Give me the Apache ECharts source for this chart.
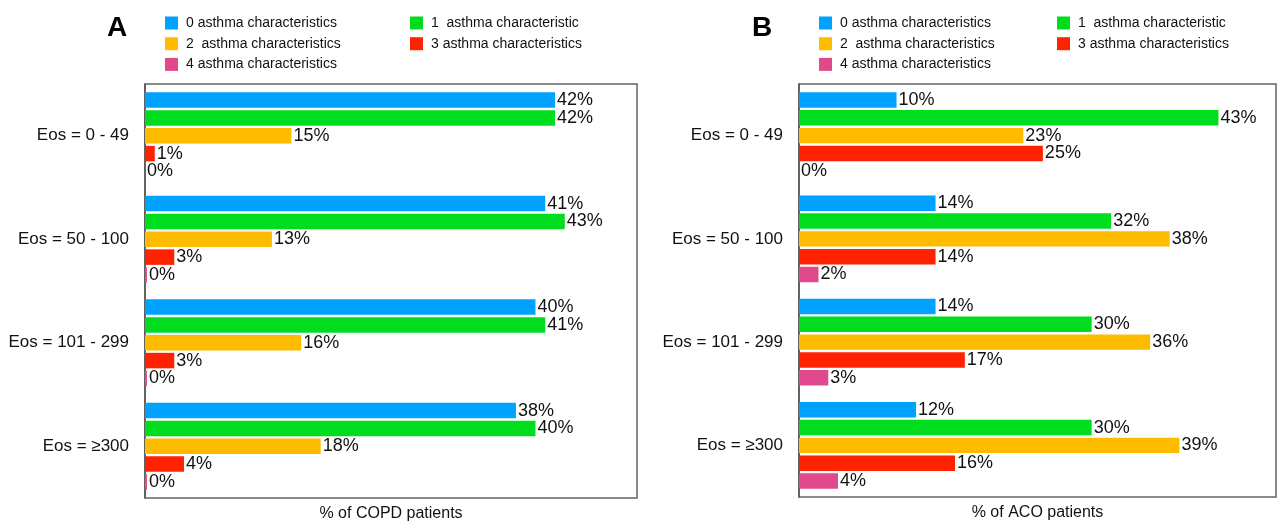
<!DOCTYPE html>
<html>
<head>
<meta charset="utf-8">
<script src="https://cdn.jsdelivr.net/npm/echarts@6/dist/echarts.min.js"></script>
<style>html,body{margin:0;padding:0;background:#fff}#c{width:1285px;height:527px}</style>
</head>
<body>
<div id="c"></div>
<script>
const categories = ['Eos = 0 - 49', 'Eos = 50 - 100', 'Eos = 101 - 299', 'Eos = \u2265300'];
const seriesNames = ['0 asthma characteristics', '1  asthma characteristic', '2  asthma characteristics', '3 asthma characteristics', '4 asthma characteristics'];
const seriesColors = ['#00a2ff', '#00dd1f', '#ffbb00', '#ff2200', '#e04a8c'];
// Panel A: % of COPD patients
const copd0 = [42, 41, 40, 38];
const copd1 = [42, 43, 41, 40];
const copd2 = [15, 13, 16, 18];
const copd3 = [1, 3, 3, 4];
const copd4 = [0, 0.2, 0.2, 0.2];
// Panel B: % of ACO patients
const aco0 = [10, 14, 14, 12];
const aco1 = [43, 32, 30, 30];
const aco2 = [23, 38, 36, 39];
const aco3 = [25, 14, 17, 16];
const aco4 = [0, 2, 3, 4];

const copdData = [copd0, copd1, copd2, copd3, copd4];
const acoData = [aco0, aco1, aco2, aco3, aco4];

const FONT = 'Liberation Sans';

function mkSeries(data, idx) {
  return data.map((d, i) => ({
    name: seriesNames[i],
    type: 'bar',
    xAxisIndex: idx,
    yAxisIndex: idx,
    data: d,
    barCategoryGap: '16%',
    barGap: '15%',
    itemStyle: { color: seriesColors[i] },
    label: {
      show: true, position: 'right', distance: 2,
      formatter: p => Math.round(p.value) + '%',
      color: '#111', fontFamily: FONT, fontSize: 18
    },
    emphasis: { disabled: true },
    animation: false
  }));
}

function mkLegend(left, names) {
  return {
    left: left, top: 16, orient: 'vertical', padding: 0,
    data: names,
    icon: 'rect', itemWidth: 13, itemHeight: 13, itemGap: 6.7,
    textStyle: { fontFamily: FONT, fontSize: 14, color: '#111', padding: [0, 0, 0, 3] },
    selectedMode: false
  };
}

const grids = [
  { left: 145, top: 84, width: 492, height: 414 },
  { left: 799, top: 84, width: 477, height: 413 }
];

const option = {
  animation: false,
  grid: grids.map(g => Object.assign({ show: true, borderColor: '#666', borderWidth: 1.5, backgroundColor: '#fff', containLabel: false, outerBoundsMode: 'none' }, g)),
  legend: [
    mkLegend(165, [seriesNames[0], seriesNames[2], seriesNames[4]]),
    mkLegend(410, [seriesNames[1], seriesNames[3]]),
    mkLegend(819, [seriesNames[0], seriesNames[2], seriesNames[4]]),
    mkLegend(1057, [seriesNames[1], seriesNames[3]])
  ],
  xAxis: [
    { gridIndex: 0, type: 'value', min: 0, max: 50.4, name: '% of COPD patients' },
    { gridIndex: 1, type: 'value', min: 0, max: 48.9, name: '% of ACO patients' }
  ].map(a => Object.assign(a, {
    nameLocation: 'middle', nameGap: 8,
    nameTextStyle: { fontFamily: FONT, fontSize: 16, color: '#111', verticalAlign: 'top' },
    axisLabel: { show: false }, axisTick: { show: false },
    splitLine: { show: false }, axisLine: { show: false }
  })),
  yAxis: [0, 1].map(i => ({
    gridIndex: i, type: 'category', data: categories, inverse: true,
    axisTick: { show: false },
    axisLine: { show: true, lineStyle: { color: '#555', width: 1.5 } },
    axisLabel: { fontFamily: FONT, fontSize: 17, color: '#111', margin: 16 }
  })),
  graphic: [
    { type: 'text', left: 107, top: 14, style: { text: 'A', font: 'bold 28px "Liberation Sans"', fill: '#000' } },
    { type: 'text', left: 752, top: 14, style: { text: 'B', font: 'bold 28px "Liberation Sans"', fill: '#000' } }
  ],
  series: mkSeries(copdData, 0).concat(mkSeries(acoData, 1))
};

const chart = echarts.init(document.getElementById('c'), null, { renderer: 'canvas' });
chart.setOption(option);
</script>
</body>
</html>
